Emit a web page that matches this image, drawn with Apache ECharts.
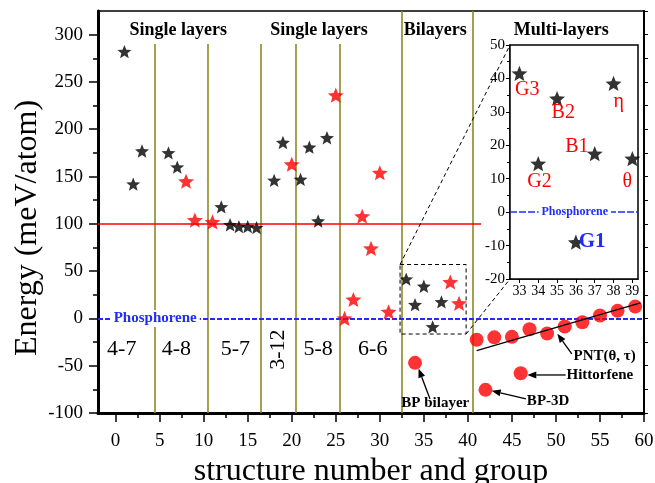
<!DOCTYPE html>
<html><head><meta charset="utf-8">
<script src="https://cdn.jsdelivr.net/npm/echarts@6/dist/echarts.min.js"></script>
<style>html,body{margin:0;padding:0;background:#fff}#c{width:655px;height:483px}</style>
</head><body><div id="c"></div>
<script>
// ---------------- data ----------------
const blackStarX = [1, 2, 3, 6, 7, 12, 13, 14, 15, 16, 18, 19, 21, 22, 23, 24];
const blackStarY = [282, 142, 177, 175, 160, 118, 99, 97, 97, 96, 146, 186, 147, 181, 103, 191];
const redStarX = [8, 9, 11, 20, 25, 26, 27, 28, 29, 30, 31];
const redStarY = [145, 104, 102, 163, 236, 0, 20, 108, 74, 154, 7];
const bilayerX = [33, 34, 35, 36, 37, 38, 39];
const bilayerY = [41.5, 14.5, 34, -9, 17.5, 38.5, 16];
const bilayerNames = ['G3', 'G2', 'B2', 'G1', 'B1', 'η', 'θ'];
const bilayerRedInMain = [false, false, false, false, false, true, true];
const multiX = [41, 43, 45, 47, 49, 51, 53, 55, 57, 59];
const multiY = [-22.5, -20, -19.5, -11.5, -16, -8.5, -4, 3, 8, 12.5];
const otherX = [34, 42, 46];
const otherY = [-47, -75.5, -58];
const otherNames = ['BP bilayer', 'BP-3D', 'Hittorfene'];
const fitX = [41, 59.6];
const fitY = [-34, 16.5];
const groupNames = ['4-7', '4-8', '5-7', '3-12', '5-8', '6-6'];
const sectionNames = ['Single layers', 'Single layers', 'Bilayers', 'Multi-layers'];
const groupBounds = [4.5, 10.5, 16.5, 20.5, 25.5, 32.5, 40.5];
const xTickLabels = [0, 5, 10, 15, 20, 25, 30, 35, 40, 45, 50, 55, 60];
const xMinorTicks = [2.5, 7.5, 12.5, 17.5, 22.5, 27.5, 32.5, 37.5, 42.5, 47.5, 52.5, 57.5];
const yTickLabels = [-100, -50, 0, 50, 100, 150, 200, 250, 300];
const yMinorTicks = [-75, -25, 25, 75, 125, 175, 225, 275];
const insetXTicks = [33, 34, 35, 36, 37, 38, 39];
const phosphoreneE = 0;
const refE = 100;

// ---------------- layout / style ----------------
const SERIF = '"Liberation Serif","DejaVu Serif",serif';
const OLIVE = '#8f8826';
const BLUE = '#1f2bff';
const RED = '#ff0000';
const STAR = 'path://M50 0L62.9 32.2L97.6 34.5L70.9 56.8L79.4 90.5L50 72L20.6 90.5L29.1 56.8L2.4 34.5L37.1 32.2Z';
const MX = [-2, 60], MY = [-100, 325];
const IX = [32.5, 39.3], IY = [-20, 50];

const sectionPos = [[7.1, 305], [23.1, 305], [36.3, 305], [50.6, 305]];
const groupPos = [[0.7, -33], [6.9, -33], [13.6, -33], [18.5, -33], [23.0, -33], [29.2, -33]];
const insetLabelPos = [[33.42, 36.6], [34.07, 9.1], [35.33, 29.6], [36.86, -8.9], [36.05, 19.6], [38.28, 33.1], [38.73, 9.1]];

const chart = echarts.init(document.getElementById('c'), null, {renderer: 'canvas'});

const lbl = {fontFamily: SERIF, fontSize: 19, color: '#000'};
function sepLines() {
  return groupBounds.map((b, i) => {
    const top = (i === 5 || i === 6) ? MY[1] : 290;
    return [{coord: [b, MY[0]]}, {coord: [b, top]}];
  });
}

const option = {
  animation: false,
  backgroundColor: '#fff',
  grid: [
    {left: 98, top: 11, right: 11, bottom: 70, show: true, borderColor: '#000', borderWidth: 1.5, backgroundColor: 'transparent', outerBoundsMode: 'none', containLabel: false},
    {left: 510, top: 45, width: 128, height: 234, show: true, borderColor: '#000', borderWidth: 1.5, backgroundColor: '#fff', z: 3, outerBoundsMode: 'none', containLabel: false}
  ],
  xAxis: [
    {gridIndex: 0, type: 'value', min: MX[0], max: MX[1], position: 'bottom',
      name: 'structure number and group', nameLocation: 'middle', nameGap: 43,
      nameTextStyle: {fontFamily: SERIF, fontSize: 32, color: '#000'},
      axisLine: {onZero: false, lineStyle: {color: '#000', width: 3}},
      axisTick: {customValues: xTickLabels, length: 9, lineStyle: {color: '#000', width: 1.5}},
      axisLabel: Object.assign({customValues: xTickLabels, margin: 19}, lbl),
      splitLine: {show: false}},
    {gridIndex: 0, type: 'value', min: MX[0], max: MX[1], position: 'bottom',
      axisLine: {show: false, onZero: false},
      axisTick: {customValues: xMinorTicks, length: 5, lineStyle: {color: '#000', width: 1.5}},
      axisLabel: {show: false}, splitLine: {show: false}},
    {gridIndex: 1, type: 'value', min: IX[0], max: IX[1], position: 'bottom',
      axisLine: {onZero: false, lineStyle: {color: '#000', width: 1.5}},
      axisTick: {customValues: insetXTicks, length: 4, lineStyle: {color: '#000'}},
      axisLabel: {customValues: insetXTicks, margin: 5, fontFamily: SERIF, fontSize: 14, color: '#000'},
      splitLine: {show: false}}
  ],
  yAxis: [
    {gridIndex: 0, type: 'value', min: MY[0], max: MY[1], position: 'left',
      axisLine: {onZero: false, lineStyle: {color: '#000', width: 3}},
      axisTick: {customValues: yTickLabels, length: 9, lineStyle: {color: '#000', width: 1.5}},
      axisLabel: Object.assign({customValues: yTickLabels, margin: 15}, lbl),
      splitLine: {show: false}},
    {gridIndex: 0, type: 'value', min: MY[0], max: MY[1], position: 'left',
      axisLine: {show: false, onZero: false},
      axisTick: {customValues: yMinorTicks, length: 5, lineStyle: {color: '#000', width: 1.5}},
      axisLabel: {show: false}, splitLine: {show: false}},
    {gridIndex: 0, type: 'value', min: MY[0], max: MY[1], position: 'right', interval: 25,
      axisLine: {onZero: false, lineStyle: {color: '#000', width: 2}},
      axisTick: {length: 4, lineStyle: {color: '#000'}},
      axisLabel: {show: false}, splitLine: {show: false}},
    {gridIndex: 1, type: 'value', min: IY[0], max: IY[1], interval: 10, position: 'left',
      axisLine: {onZero: false, lineStyle: {color: '#000', width: 1.5}},
      axisTick: {length: 4, lineStyle: {color: '#000'}},
      minorTick: {show: true, splitNumber: 2, length: 3, lineStyle: {color: '#000'}},
      axisLabel: {margin: 5, fontFamily: SERIF, fontSize: 15, color: '#000'},
      splitLine: {show: false}}
  ],
  series: [
    {type: 'scatter', xAxisIndex: 0, yAxisIndex: 0, symbol: STAR, symbolKeepAspect: true, symbolSize: 14,
      itemStyle: {color: '#000'}, z: 5,
      data: blackStarX.map((x, i) => [x, blackStarY[i]]).concat(
        bilayerX.map((x, i) => bilayerRedInMain[i] ? null : [x, bilayerY[i]]).filter(Boolean)),
      markLine: {silent: true, symbol: ['none', 'none'], label: {show: false},
        lineStyle: {color: OLIVE, width: 1.6, type: 'solid'}, data: sepLines()}},
    {type: 'scatter', xAxisIndex: 0, yAxisIndex: 0, symbol: STAR, symbolKeepAspect: true, symbolSize: 16,
      itemStyle: {color: RED}, z: 5,
      data: redStarX.map((x, i) => [x, redStarY[i]]).concat(
        bilayerX.map((x, i) => bilayerRedInMain[i] ? [x, bilayerY[i]] : null).filter(Boolean)),
      markLine: {silent: true, symbol: ['none', 'none'], label: {show: false},
        data: [
          [{coord: [MX[0], refE], lineStyle: {color: RED, width: 1.5, type: 'solid'}}, {coord: [41.5, refE]}],
          [{coord: [MX[0], phosphoreneE], lineStyle: {color: BLUE, width: 1.8, type: [5, 2]}}, {coord: [MX[1], phosphoreneE]}]
        ]}},
    {type: 'scatter', xAxisIndex: 0, yAxisIndex: 0, symbol: 'circle', symbolSize: 14,
      itemStyle: {color: RED}, z: 5,
      data: multiX.map((x, i) => [x, multiY[i]]).concat(otherX.map((x, i) => [x, otherY[i]]))},
    {type: 'line', xAxisIndex: 0, yAxisIndex: 0, showSymbol: false, symbol: 'none', z: 6,
      lineStyle: {color: '#000', width: 1.2}, data: fitX.map((x, i) => [x, fitY[i]])},
    {type: 'scatter', xAxisIndex: 2, yAxisIndex: 3, symbol: STAR, symbolKeepAspect: true, symbolSize: 16,
      itemStyle: {color: '#000'}, z: 5,
      data: bilayerX.map((x, i) => [x, bilayerY[i]]),
      markLine: {silent: true, symbol: ['none', 'none'], label: {show: false},
        lineStyle: {color: BLUE, width: 1.5, type: [7, 2]},
        data: [[{coord: [IX[0], phosphoreneE]}, {coord: [IX[1], phosphoreneE]}]]}}
  ]
};
chart.setOption(option);

// ---------------- annotations ----------------
const P = (x, y, gi) => chart.convertToPixel({gridIndex: gi || 0}, [x, y]);
const G = [];
function txt(x, y, gi, s, font, fill, o) {
  o = o || {};
  const p = P(x, y, gi);
  G.push({type: 'text', x: p[0], y: p[1], rotation: o.rot || 0, z: 100,
    style: {text: s, font: font, fill: fill, align: o.align || 'center', verticalAlign: 'middle',
      backgroundColor: o.bg, padding: o.pad}});
}
function arrow(x1, y1, x2, y2) {
  const a = P(x1, y1), b = P(x2, y2);
  const dx = b[0] - a[0], dy = b[1] - a[1], L = Math.hypot(dx, dy), ux = dx / L, uy = dy / L;
  const hl = 9, hw = 3.5;
  const base = [b[0] - ux * hl, b[1] - uy * hl];
  G.push({type: 'line', z: 100, shape: {x1: a[0], y1: a[1], x2: base[0], y2: base[1]}, style: {stroke: '#000', lineWidth: 1.3}});
  G.push({type: 'polygon', z: 100, shape: {points: [b, [base[0] - uy * hw, base[1] + ux * hw], [base[0] + uy * hw, base[1] - ux * hw]]}, style: {fill: '#000'}});
}
const BOLD = (n) => 'bold ' + n + 'px ' + SERIF;
const REG = (n) => n + 'px ' + SERIF;

// y-axis title (placed slightly below the plot centre as in the original)
G.push({type: 'text', x: 28, y: 228, rotation: Math.PI / 2, z: 100,
  style: {text: 'Energy (meV/atom)', font: REG(32), fill: '#000', align: 'center', verticalAlign: 'middle'}});

sectionNames.forEach((s, i) => txt(sectionPos[i][0], sectionPos[i][1], 0, s, BOLD(18), '#000'));
groupNames.forEach((s, i) => txt(groupPos[i][0], groupPos[i][1], 0, s, REG(22), '#000', i === 3 ? {rot: Math.PI / 2} : {}));
txt(4.5, phosphoreneE, 0, 'Phosphorene', BOLD(15), BLUE, {bg: '#fff', pad: [1, 3]});
txt(35.94, phosphoreneE, 1, 'Phosphorene', BOLD(12), BLUE, {bg: '#fff', pad: [1, 3]});
bilayerNames.forEach((s, i) => {
  const isG1 = s === 'G1';
  txt(insetLabelPos[i][0], insetLabelPos[i][1], 1, s, isG1 ? BOLD(21) : REG(20), isG1 ? BLUE : RED);
});
// arrow labels
txt(52.0, -39.5, 0, 'PNT(θ, τ)', BOLD(15), '#000', {align: 'left'});
txt(51.2, -60.3, 0, otherNames[2], BOLD(15), '#000', {align: 'left'});
txt(46.7, -87.8, 0, otherNames[1], BOLD(15), '#000', {align: 'left'});
txt(36.3, -89.2, 0, otherNames[0], BOLD(15), '#000');
arrow(51.8, -37.4, 50.16, -16.2);
arrow(51.1, -59.8, 46.75, -59.8);
arrow(46.6, -85, 42.7, -76.5);
arrow(35.7, -85.3, 34.4, -53);

// zoom box + connectors
const r1 = P(32.3, 57), r2 = P(39.8, -16.5);
G.push({type: 'rect', z: 100, shape: {x: r1[0], y: r1[1], width: r2[0] - r1[0], height: r2[1] - r1[1]},
  style: {fill: 'none', stroke: '#000', lineWidth: 1, lineDash: [4, 3]}});
const i1 = P(IX[0], IY[1], 1), i2 = P(IX[0], IY[0], 1);
G.push({type: 'line', z: 100, shape: {x1: r1[0], y1: r1[1], x2: i1[0], y2: i1[1]}, style: {stroke: '#000', lineWidth: 1, lineDash: [4, 3]}});
G.push({type: 'line', z: 100, shape: {x1: r2[0], y1: r2[1], x2: i2[0], y2: i2[1]}, style: {stroke: '#000', lineWidth: 1, lineDash: [4, 3]}});

chart.setOption({graphic: G});
</script></body></html>
